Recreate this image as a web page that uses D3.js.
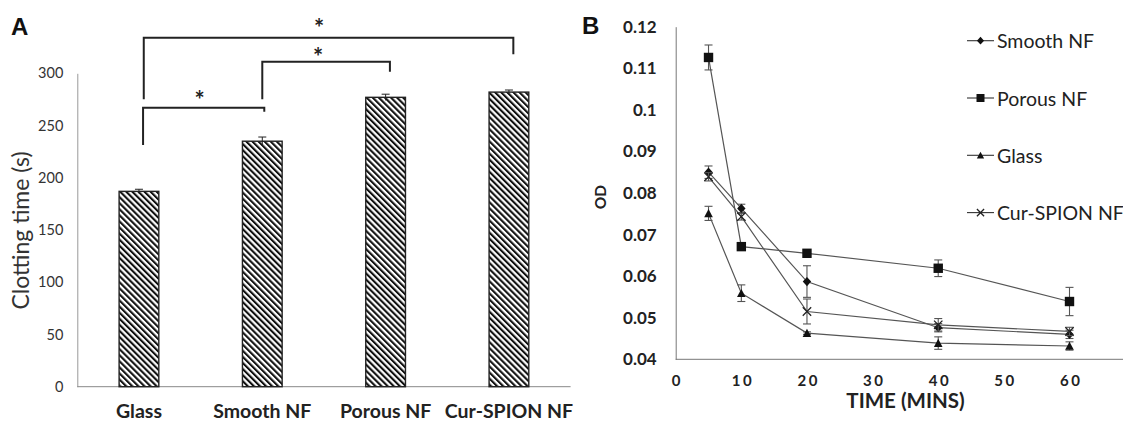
<!DOCTYPE html>
<html><head><meta charset="utf-8">
<script src="https://cdn.jsdelivr.net/npm/d3@7"></script>
<style>body{margin:0;background:#fff}svg{display:block}</style>
</head><body>
<svg id="c" width="1123" height="421"></svg>
<script>
// ---------- Panel A data ----------
const barCategories = ["Glass", "Smooth NF", "Porous NF", "Cur-SPION NF"];
const clottingTime = [187, 235, 277, 282];
const clottingErr = [2, 4, 3, 2];
const yTicksA = [0, 50, 100, 150, 200, 250, 300];
// significance brackets: [from index, to index]
const sigPairs = [[0, 1], [1, 2], [0, 3]];
const sigLabels = ["*", "*", "*"];

// ---------- Panel B data ----------
const timePoints = [5, 10, 20, 40, 60];
const seriesNames = ["Smooth NF", "Porous NF", "Glass", "Cur-SPION NF"];
const smoothOD = [0.0850, 0.0763, 0.0587, 0.0476, 0.0460];
const smoothErr = [0.0015, 0.0010, 0.0038, 0.0010, 0.0010];
const porousOD = [0.1126, 0.0671, 0.0655, 0.0619, 0.0539];
const porousErr = [0.0030, 0.0005, 0.0005, 0.0020, 0.0034];
const glassOD = [0.0751, 0.0559, 0.0463, 0.0439, 0.0432];
const glassErr = [0.0017, 0.0020, 0.0003, 0.0015, 0.0010];
const curOD = [0.0839, 0.0743, 0.0515, 0.0483, 0.0467];
const curErr = [0.0010, 0.0008, 0.0030, 0.0015, 0.0010];
const xTicksB = [0, 10, 20, 30, 40, 50, 60];
const yTicksB = [0.04, 0.05, 0.06, 0.07, 0.08, 0.09, 0.1, 0.11, 0.12];

const svg = d3.select("#c");
const FONT = "Lato, 'Open Sans', sans-serif";

// hatch pattern
const defs = svg.append("defs");
const P = 4.3;
const pat = defs.append("pattern").attr("id", "hatch").attr("patternUnits", "userSpaceOnUse")
  .attr("width", P).attr("height", P).attr("patternTransform", "rotate(-45)");
pat.append("rect").attr("width", P).attr("height", P).attr("fill", "#fff");
pat.append("rect").attr("x", 0).attr("width", 2.1).attr("height", P).attr("fill", "#111");

// ================= Panel A =================
const xA = d3.scaleBand().domain(barCategories).range([77.3, 570.6]).paddingInner(0.678).paddingOuter(0.339);
const yA = d3.scaleLinear().domain([0, 300]).range([386.7, 73.3]);
const cx = i => xA(barCategories[i]) + xA.bandwidth() / 2;

const gA = svg.append("g");
const yAxisA = d3.axisLeft(yA).tickValues(yTicksA).tickSize(0).tickPadding(14);
const ya = gA.append("g").attr("transform", "translate(77.3,0)").call(yAxisA);
ya.select(".domain").attr("stroke", "#999").attr("stroke-width", 1);
ya.selectAll("text").attr("font-family", FONT).attr("font-size", 14.5).attr("fill", "#333");

gA.append("line").attr("x1", 77.3).attr("x2", 570.6).attr("y1", yA(0)).attr("y2", yA(0))
  .attr("stroke", "#888").attr("stroke-width", 1);

gA.selectAll("rect.bar").data(barCategories).join("rect").attr("class", "bar")
  .attr("x", d => xA(d)).attr("width", xA.bandwidth())
  .attr("y", (d, i) => yA(clottingTime[i])).attr("height", (d, i) => yA(0) - yA(clottingTime[i]))
  .attr("fill", "url(#hatch)").attr("stroke", "#222").attr("stroke-width", 1.4);

const eA = gA.selectAll("g.err").data(barCategories).join("g").attr("class", "err");
eA.append("line").attr("x1", (d, i) => cx(i)).attr("x2", (d, i) => cx(i))
  .attr("y1", (d, i) => yA(clottingTime[i] - clottingErr[i])).attr("y2", (d, i) => yA(clottingTime[i] + clottingErr[i]))
  .attr("stroke", "#222");
eA.append("line").attr("x1", (d, i) => cx(i) - 4).attr("x2", (d, i) => cx(i) + 4)
  .attr("y1", (d, i) => yA(clottingTime[i] + clottingErr[i])).attr("y2", (d, i) => yA(clottingTime[i] + clottingErr[i]))
  .attr("stroke", "#222");

gA.selectAll("text.xl").data(barCategories).join("text").attr("class", "xl")
  .attr("x", (d, i) => cx(i)).attr("y", 418)
  .attr("text-anchor", "middle").attr("font-family", FONT).attr("font-weight", "bold")
  .attr("font-size", 19.5).attr("fill", "#222").text(d => d);

gA.append("text").attr("transform", "translate(29,230.5) rotate(-90)").attr("text-anchor", "middle")
  .attr("font-family", FONT).attr("font-size", 23).attr("fill", "#333").text("Clotting time (s)");

svg.append("text").attr("x", 11).attr("y", 35).attr("font-family", "'Liberation Sans', Arial, sans-serif")
  .attr("font-weight", "bold").attr("font-size", 24).attr("fill", "#111").text("A");

// bracket layout: vertical levels (px) and small horizontal offsets from bar centres
const bracketSpec = [
  {top: 107.7, leftBot: 145, rightBot: 111.7, dl: 4.1, dr: 2.0, starDx: -4, starY: 108.5},
  {top: 61.7, leftBot: 99.3, rightBot: 71.7, dl: 0, dr: 4.3, starDx: -8, starY: 65.5},
  {top: 37.7, leftBot: 99.3, rightBot: 54.3, dl: 4.8, dr: 4.4, starDx: -9.5, starY: 36.5}
];
bracketSpec.forEach((b, k) => {
  const [i, j] = sigPairs[k];
  const x1 = cx(i) + b.dl, x2 = cx(j) + b.dr;
  gA.append("path").attr("d", `M${x1},${b.leftBot}V${b.top}H${x2}V${b.rightBot}`)
    .attr("fill", "none").attr("stroke", "#222").attr("stroke-width", 2);
  gA.append("text").attr("x", (x1 + x2) / 2 + b.starDx).attr("y", b.starY).attr("text-anchor", "middle")
    .attr("font-family", FONT).attr("font-weight", "bold").attr("font-size", 24).attr("fill", "#222").text(sigLabels[k]);
});

// ================= Panel B =================
const xB = d3.scaleLinear().domain([0, 60]).range([675.7, 1069.5]);
const yB = d3.scaleLinear().domain([0.04, 0.12]).range([359.3, 26.7]);
const gB = svg.append("g");

const yAxisB = d3.axisLeft(yB).tickValues(yTicksB).tickSize(0).tickPadding(19).tickFormat(d => +d.toFixed(2) + "");
const yb = gB.append("g").attr("transform", "translate(675.7,0)").call(yAxisB);
yb.select(".domain").attr("stroke", "#777").attr("stroke-width", 1);
yb.selectAll("text").attr("font-family", FONT).attr("font-weight", "bold").attr("font-size", 17).attr("fill", "#222");

gB.append("line").attr("x1", 675.7).attr("x2", 1123).attr("y1", yB(0.04)).attr("y2", yB(0.04))
  .attr("stroke", "#777").attr("stroke-width", 1);
const xAxisB = d3.axisBottom(xB).tickValues(xTicksB).tickSize(0).tickPadding(16);
const xb = gB.append("g").attr("transform", `translate(1.2,${yB(0.04)})`).call(xAxisB);
xb.select(".domain").remove();
xb.selectAll("text").attr("font-family", FONT).attr("font-weight", "bold").attr("font-size", 15)
  .attr("letter-spacing", "2.5px").attr("fill", "#222");

gB.append("text").attr("x", 905.5).attr("y", 408).attr("text-anchor", "middle").attr("font-family", FONT)
  .attr("font-weight", "bold").attr("font-size", 20.5).attr("fill", "#222").text("TIME (MINS)");
gB.append("text").attr("transform", "translate(606,197) rotate(-90)").attr("text-anchor", "middle").attr("font-family", FONT)
  .attr("font-weight", "bold").attr("font-size", 15.5).attr("fill", "#222").text("OD");
svg.append("text").attr("x", 582).attr("y", 34).attr("font-family", "'Liberation Sans', Arial, sans-serif")
  .attr("font-weight", "bold").attr("font-size", 24).attr("fill", "#111").text("B");

const series = [
  {name: seriesNames[0], vals: smoothOD, err: smoothErr, sym: "diamond"},
  {name: seriesNames[1], vals: porousOD, err: porousErr, sym: "square"},
  {name: seriesNames[2], vals: glassOD, err: glassErr, sym: "triangle"},
  {name: seriesNames[3], vals: curOD, err: curErr, sym: "x"}
];
const LC = "#555";
const line = d3.line().x((d, i) => xB(timePoints[i])).y(d => yB(d));
function marker(g, s, x, y, k) {
  let d;
  if (s.sym === "diamond") { const w = 4.2 * k, h = 4.6 * k; d = `M${x},${y - h}L${x + w},${y}L${x},${y + h}L${x - w},${y}Z`; }
  else if (s.sym === "square") { const r = 4.7 * k; d = `M${x - r},${y - r}h${2 * r}v${2 * r}h${-2 * r}Z`; }
  else if (s.sym === "triangle") { const w = 4.3 * k, h = 4.3 * k; d = `M${x},${y - h}L${x + w},${y + h * 0.9}L${x - w},${y + h * 0.9}Z`; }
  if (s.sym === "x") {
    const r = 4.2 * k;
    g.append("path").attr("d", `M${x - r},${y - r}L${x + r},${y + r}M${x - r},${y + r}L${x + r},${y - r}`)
      .attr("stroke", "#222").attr("stroke-width", 1.3).attr("fill", "none");
  } else {
    g.append("path").attr("d", d).attr("fill", "#111");
  }
}
series.forEach(s => {
  s.vals.forEach((v, i) => {
    const x = xB(timePoints[i]);
    gB.append("line").attr("x1", x).attr("x2", x).attr("y1", yB(v - s.err[i])).attr("y2", yB(v + s.err[i]))
      .attr("stroke", LC).attr("stroke-width", 1.1);
    [v - s.err[i], v + s.err[i]].forEach(e => gB.append("line").attr("x1", x - 4).attr("x2", x + 4)
      .attr("y1", yB(e)).attr("y2", yB(e)).attr("stroke", LC).attr("stroke-width", 1.1));
  });
  gB.append("path").attr("d", line(s.vals)).attr("fill", "none").attr("stroke", LC).attr("stroke-width", 1.2);
  s.vals.forEach((v, i) => marker(gB, s, xB(timePoints[i]), yB(v), 1));
});

series.forEach((s, i) => {
  const y = 40.7 + i * 57.3;
  gB.append("line").attr("x1", 967).attr("x2", 994).attr("y1", y).attr("y2", y).attr("stroke", "#333").attr("stroke-width", 1.1);
  marker(gB, s, 980.5, y, 0.85);
  gB.append("text").attr("x", 997).attr("y", y + 7.5).attr("font-family", FONT).attr("font-size", 19.5)
    .attr("fill", "#222").text(s.name);
});
</script>
</body></html>
